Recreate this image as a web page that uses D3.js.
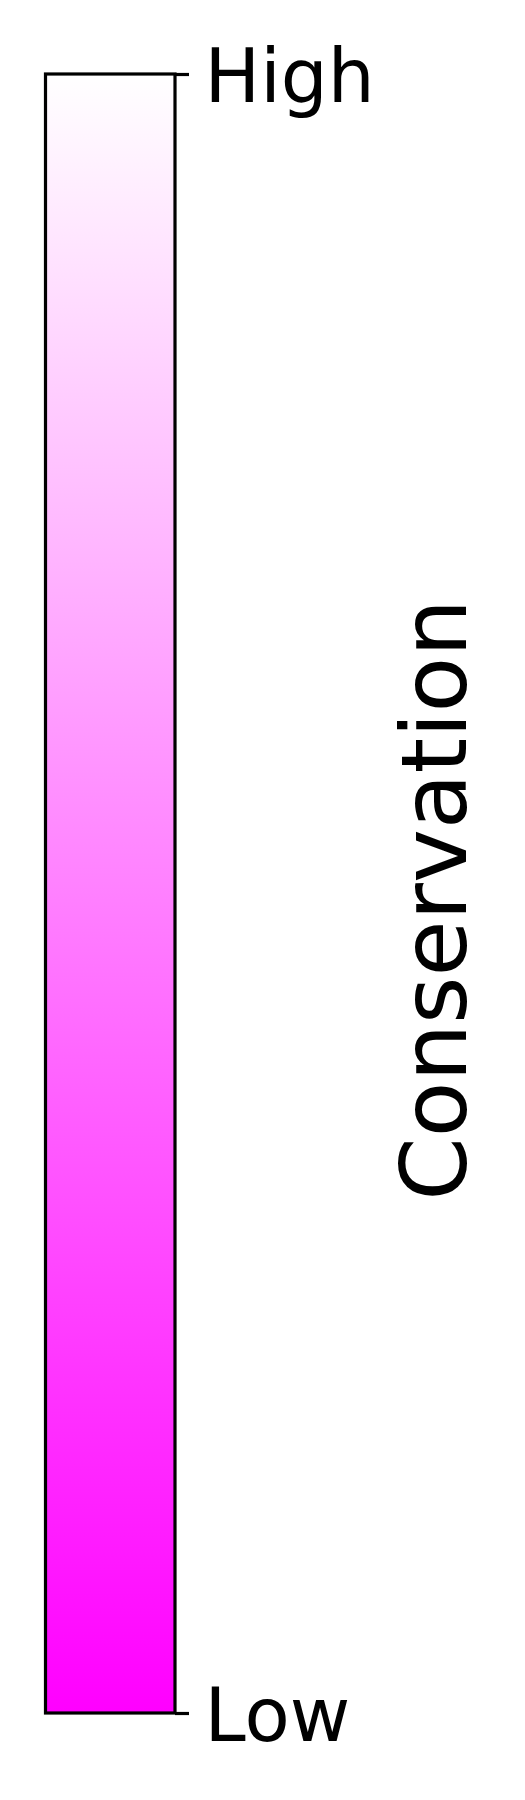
<!DOCTYPE html>
<html>
<head>
<meta charset="utf-8">
<script src="https://cdn.jsdelivr.net/npm/d3@7"></script>
<style>
  body { margin: 0; background: #fff; }
  text { font-family: "DejaVu Sans", sans-serif; }
</style>
</head>
<body>
<svg id="chart" width="525" height="1800"></svg>
<script>
// colourbar data
const tickValues = [0, 1];
const tickLabels = ['Low', 'High'];
const colorStops = ['#ff00ff', '#ffffff'];
const axisLabel = 'Conservation';

const width = 525, height = 1800;
const bar = { x0: 45.5, x1: 175, y0: 74, y1: 1713 };

const svg = d3.select('#chart');
svg.append('rect').attr('width', width).attr('height', height).attr('fill', '#fff');

// value -> position, value -> colour
const yScale = d3.scaleLinear().domain([0, 1]).range([bar.y1, bar.y0]);
const colorScale = d3.scaleLinear().domain([0, 1]).range(colorStops);

// gradient goes bottom (low) to top (high)
const grad = svg.append('defs').append('linearGradient')
    .attr('id', 'cbar')
    .attr('x1', 0).attr('y1', 1).attr('x2', 0).attr('y2', 0);
grad.selectAll('stop')
    .data(d3.range(0, 1.0001, 0.1))
    .enter()
    .append('stop')
    .attr('offset', d => d)
    .attr('stop-color', d => colorScale(d));

svg.append('rect')
    .attr('x', bar.x0)
    .attr('y', yScale(1))
    .attr('width', bar.x1 - bar.x0)
    .attr('height', yScale(0) - yScale(1))
    .attr('fill', 'url(#cbar)')
    .attr('stroke', '#000')
    .attr('stroke-width', 3.2);

// ticks on the right side
const axis = d3.axisRight(yScale)
    .tickValues(tickValues)
    .tickFormat((d, i) => tickLabels[i])
    .tickSize(14)
    .tickPadding(15.5);

const g = svg.append('g')
    .attr('transform', 'translate(' + bar.x1 + ',0)')
    .call(axis);
g.select('.domain').remove();
g.selectAll('.tick line').attr('stroke', '#000').attr('stroke-width', 3.2);
g.selectAll('.tick text')
    .attr('fill', '#000')
    .style('font-family', '"DejaVu Sans", sans-serif')
    .style('font-size', '74px')
    .attr('dy', null)
    .attr('dominant-baseline', null)
    .attr('y', 27.5);

// axis label, rotated
svg.append('text')
    .attr('transform', 'translate(466,900) rotate(-90)')
    .attr('text-anchor', 'middle')
    .style('font-size', '91px')
    .attr('fill', '#000')
    .text(axisLabel);
</script>
</body>
</html>
